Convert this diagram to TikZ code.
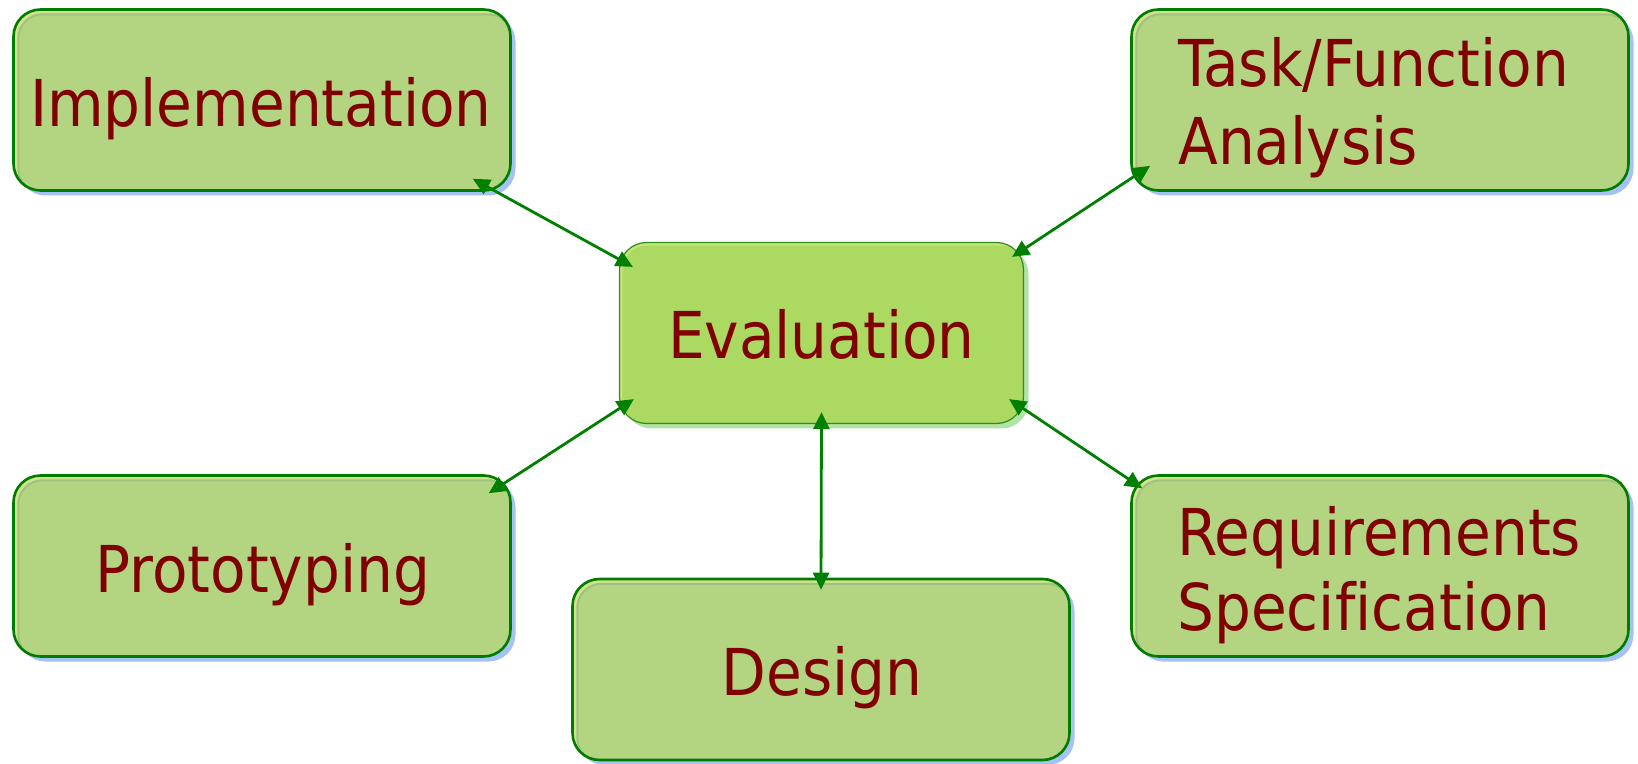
\documentclass[tikz,border=0pt]{standalone}
\usepackage{fontspec}
\newfontfamily\lblfont[Ligatures=NoCommon]{DejaVu Sans Condensed}
\usetikzlibrary{arrows.meta,calc,shadows}
\definecolor{boxfill}{RGB}{179,212,129}
\definecolor{hilite}{RGB}{208,226,138}
\definecolor{innerln}{RGB}{160,194,128}
\definecolor{bordergreen}{RGB}{0,125,0}
\definecolor{shadowblue}{RGB}{164,194,246}
\definecolor{evalfill}{RGB}{172,217,98}
\definecolor{evalinner}{RGB}{196,228,120}
\definecolor{evalborder}{RGB}{50,140,30}
\definecolor{evalshadow}{RGB}{176,228,166}
\definecolor{txtred}{RGB}{128,0,0}
\definecolor{arrowgreen}{RGB}{0,128,0}
\begin{document}
\begin{tikzpicture}[x=0.5pt,y=-0.5pt,
  gbox/.style={rectangle, rounded corners=13.5pt, draw=bordergreen, line width=1.3pt,
    fill=hilite, minimum width=248.5pt, minimum height=90.5pt, inner sep=0pt,
    general shadow={fill=shadowblue, shadow xshift=2.5pt, shadow yshift=-2.5pt},
    path picture={\draw[draw=innerln, line width=1pt, fill=boxfill, rounded corners=12pt]
      ([shift={(2.4pt,-2.4pt)}]path picture bounding box.north west) rectangle
      ([shift={(1pt,-1pt)}]path picture bounding box.south east);}},
  ebox/.style={rectangle, rounded corners=13.5pt, draw=evalborder, line width=0.6pt,
    fill=evalinner, minimum width=202pt, minimum height=90.5pt, inner sep=0pt,
    general shadow={fill=evalshadow, shadow xshift=2.5pt, shadow yshift=-2.5pt},
    path picture={\fill[evalfill, rounded corners=12pt]
      ([shift={(1.6pt,-1.6pt)}]path picture bounding box.north west) rectangle
      ([shift={(1pt,-1pt)}]path picture bounding box.south east);}},
  lbl/.style={inner sep=0pt, text=txtred, font=\lblfont\fontsize{32.3pt}{39pt}\selectfont},
  conn/.style={draw=arrowgreen, line width=1.4pt,
    {Triangle[length=8.5pt,width=8pt]}-{Triangle[length=8.5pt,width=8pt]}}
]
\useasboundingbox (0,0) rectangle (1638,764);

\node[gbox] (impl) at (262,100) {};
\node[gbox] (task) at (1380,100) {};
\node[gbox] (proto) at (262,566) {};
\node[gbox] (req) at (1380,566) {};
\node[gbox] (design) at (821,669.5) {};
\node[ebox] (eval) at (821.5,333) {};

\node[lbl, anchor=base] (implt) at (261,127) {Implementation};
\node[lbl, anchor=base west] (taskt1) at (1178,87) {Task/Function};
\node[lbl, anchor=base west] (taskt2) at (1178,165) {Analysis};
\node[lbl, anchor=base] (protot) at (263,592) {Prototyping};
\node[lbl, anchor=base west] (reqt1) at (1177,555) {Requirements};
\node[lbl, anchor=base west] (reqt2) at (1177,630) {Specification};
\node[lbl, anchor=base] (designt) at (822,695) {Design};
\node[lbl, anchor=base] (evalt) at (821.5,359) {Evaluation};

\draw[conn] ($(impl.south east)+(-39,-13)$) -- ($(eval.north west)+(14,25)$);
\draw[conn] ($(task.south west)+(20,-26)$) -- ($(eval.north east)+(-12,15)$);
\draw[conn] ($(proto.north east)+(-23,19)$) -- ($(eval.south west)+(15,-25)$);
\draw[conn] ($(eval.south)+(0,-12)$) -- ($(design.north)+(0,12)$);
\draw[conn] ($(eval.south east)+(-15,-25)$) -- ($(req.north west)+(12,14)$);
\end{tikzpicture}
\end{document}
